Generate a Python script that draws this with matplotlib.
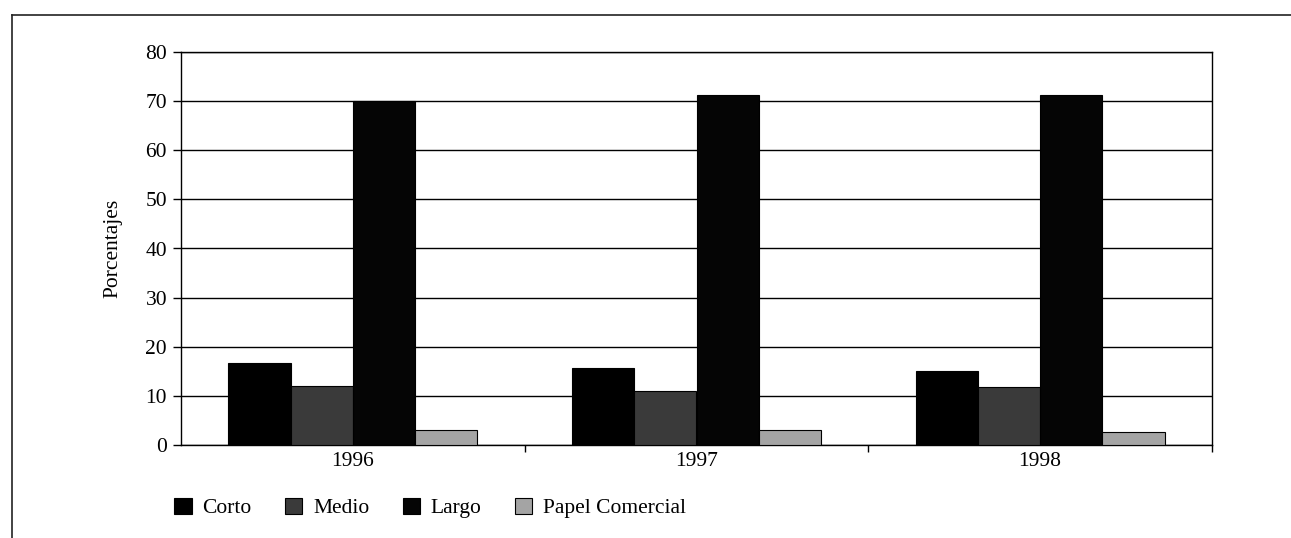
import matplotlib.pyplot as plt
import numpy as np
from matplotlib.lines import Line2D
from matplotlib.patches import Patch

plt.rcParams['font.family'] = ['Liberation Serif', 'DejaVu Serif']

years = ['1996', '1997', '1998']
series = ['Corto', 'Medio', 'Largo', 'Papel Comercial']
corto = [16.7, 15.7, 15.1]
medio = [12.0, 11.0, 11.8]
largo = [70.0, 71.3, 71.3]
papel = [3.1, 3.1, 2.7]
colors = ['#000000', '#3a3a3a', '#050505', '#a4a4a4']

W, H = 1291, 538
fs = 15.5
fig = plt.figure(figsize=(W / 100, H / 100), dpi=100)
ax = fig.add_axes([181 / W, 1 - 445 / H, (1212 - 181) / W, (445 - 52) / H])

x = np.arange(len(years))
bw = 0.181
values = [corto, medio, largo, papel]
for i, (vals, c) in enumerate(zip(values, colors)):
  ax.bar(x + (i - 1.5) * bw, vals, bw, color=c, edgecolor='black', linewidth=0.8, zorder=3)

ax.set_xlim(-0.5, 2.5)
ax.set_ylim(0, 80)
ax.set_yticks(range(0, 81, 10))
ax.yaxis.grid(True, color='black', linewidth=1.0, zorder=0)
ax.set_xticks(x)
ax.set_xticklabels(years)
ax.set_xticks([0.5, 1.5, 2.5], minor=True)
ax.tick_params(axis='x', which='major', length=0, labelsize=fs, pad=5)
ax.tick_params(axis='x', which='minor', length=5, direction='out', width=1)
ax.tick_params(axis='y', length=6, width=1, labelsize=fs, pad=4)
for s in ax.spines.values():
  s.set_linewidth(1.0)
ax.set_ylabel('Porcentajes', fontsize=fs)
ax.yaxis.set_label_coords(-(181 - 122) / (1212 - 181), 0.5)

handles = [Patch(facecolor=c, edgecolor='black', linewidth=0.8) for c in colors]
fig.legend(handles, series, loc='center left', bbox_to_anchor=(155 / W, 1 - 508 / H),
           ncol=4, frameon=False, fontsize=fs, handlelength=0.8, handleheight=0.8,
           handletextpad=0.5, columnspacing=1.55)

# outer frame (top and left)
fig.add_artist(Line2D([12 / W, 1.0], [1 - 15 / H, 1 - 15 / H], color='#222222', linewidth=1.2))
fig.add_artist(Line2D([12 / W, 12 / W], [0, 1 - 15 / H], color='#222222', linewidth=1.2))

fig.savefig('out.png', dpi=100)
